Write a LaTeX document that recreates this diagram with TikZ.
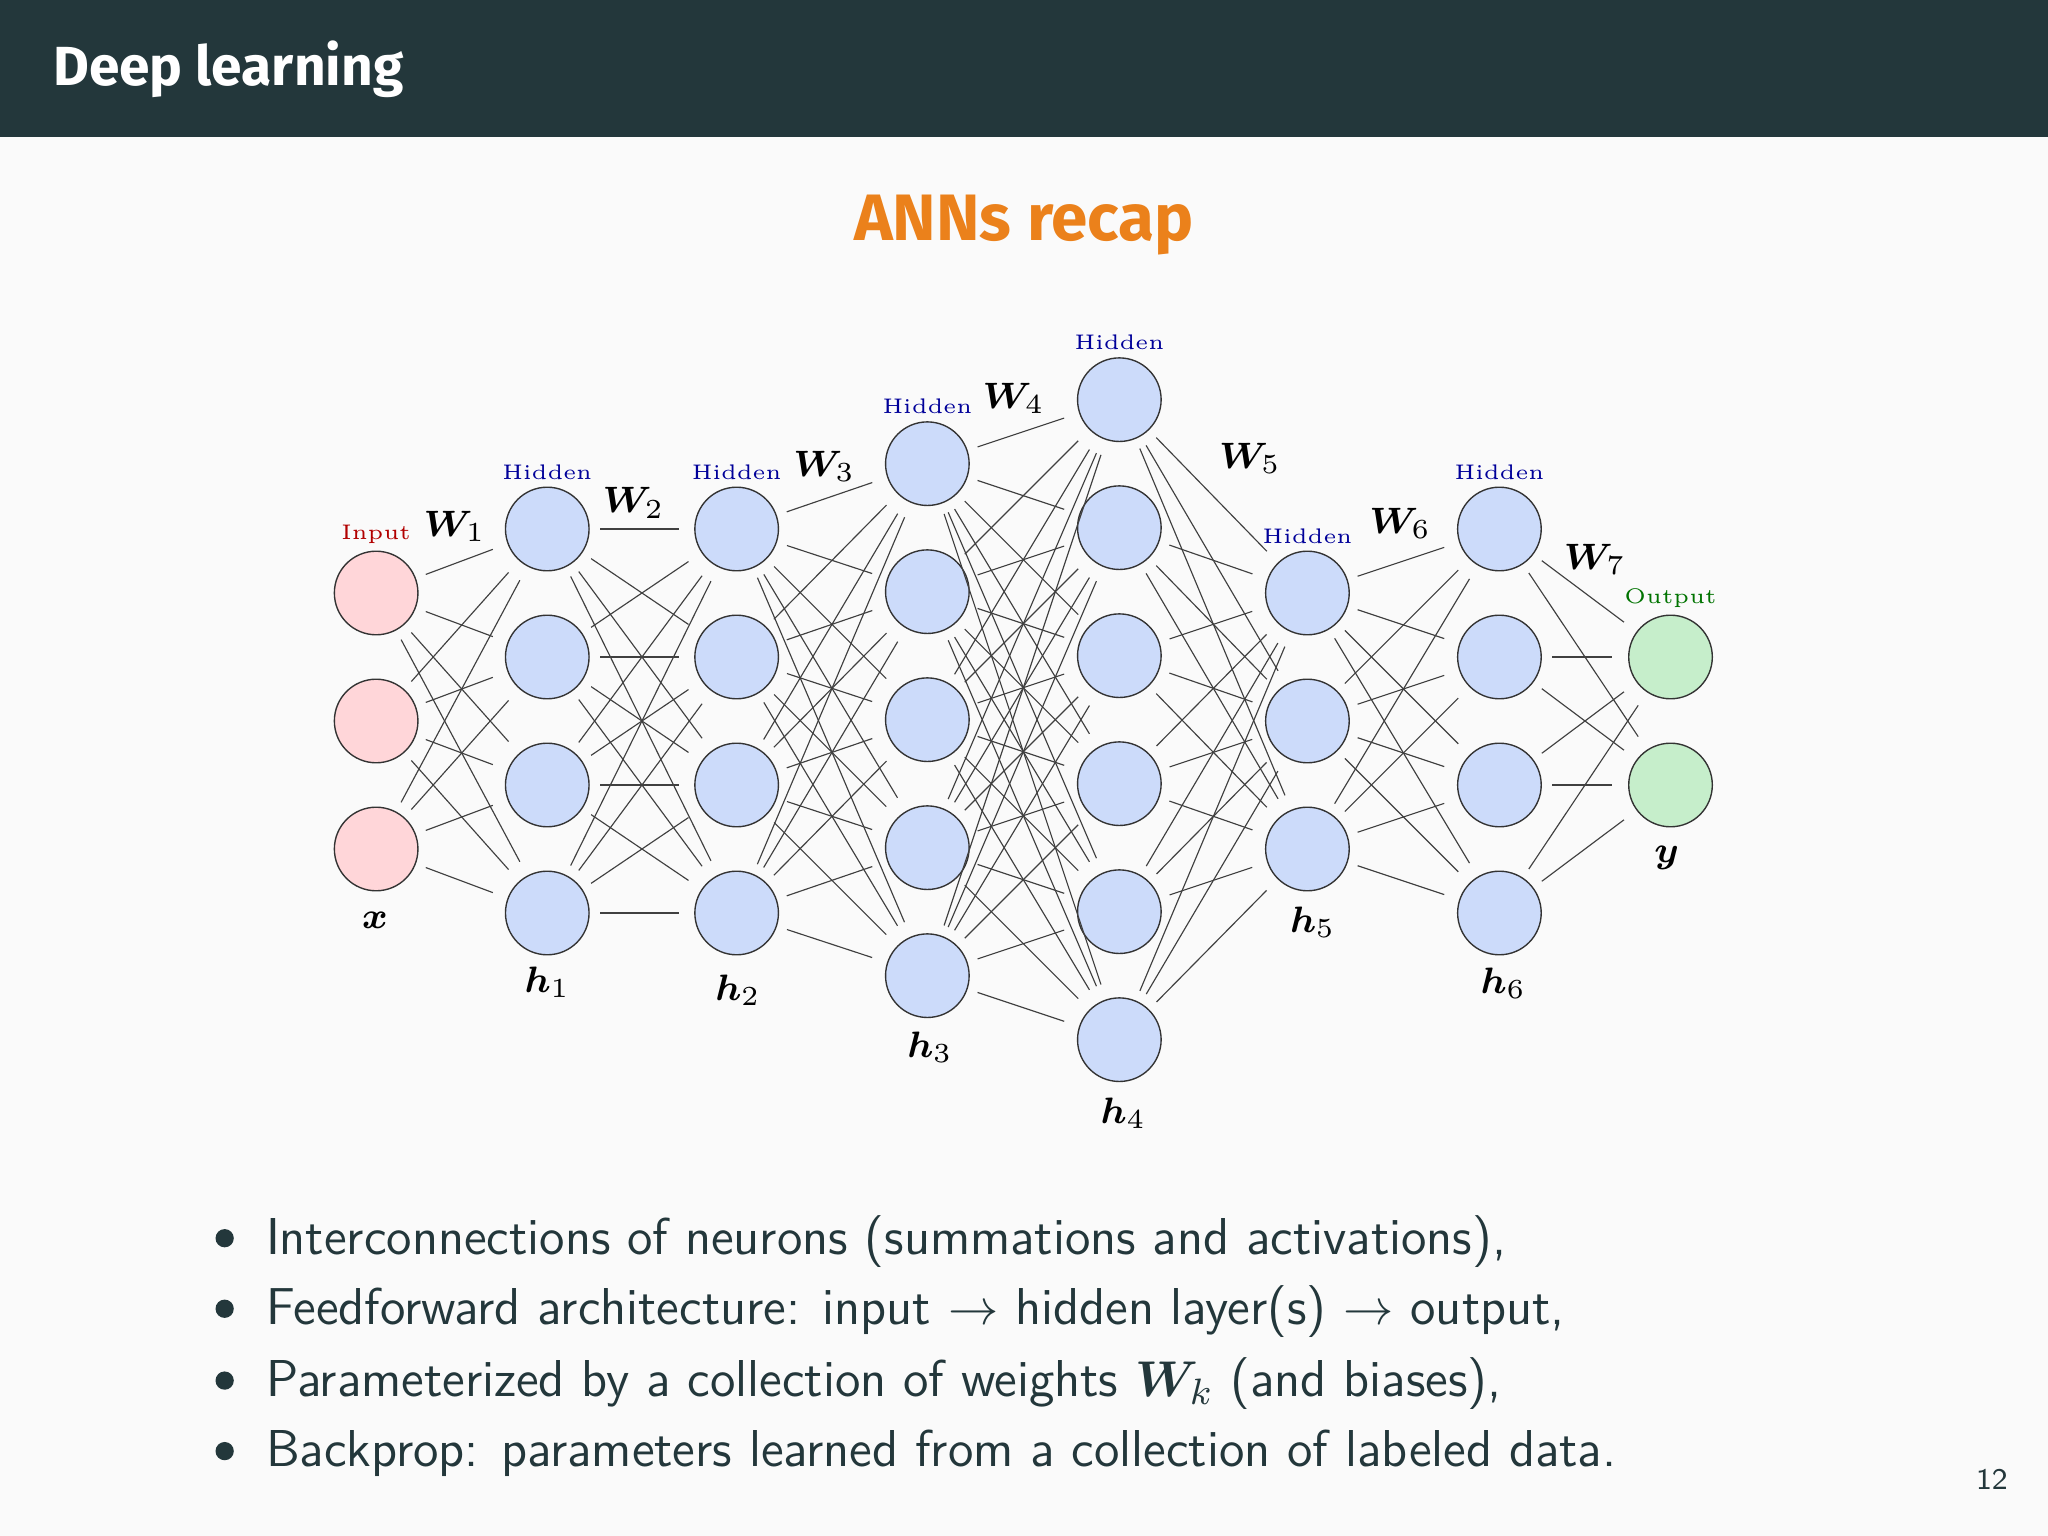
\documentclass[tikz,border=0pt]{standalone}
\usepackage{amsmath,amssymb,bm}
\usepackage{fontspec}
\newfontfamily\firafont{Fira Sans}
\begin{document}
\begin{tikzpicture}[x=0.1mm,y=-0.1mm,
  neuron/.style={circle,draw=black!80,line width=0.3pt,minimum size=6.4mm,inner sep=0},
  hid/.style={neuron,fill=hidfill},
  inp/.style={neuron,fill=inpfill},
  outp/.style={neuron,fill=outfill},
  conn/.style={line width=0.25pt,black!75,shorten >=1.2mm,shorten <=0.8mm},
  tag/.style={font=\rmfamily\fontsize{4.6}{5}\selectfont,inner sep=0.5pt},
  wlab/.style={font=\fontsize{8}{9}\selectfont},
  hlab/.style={font=\fontsize{8}{9}\selectfont}]
\definecolor{bar}{HTML}{23373B}
\definecolor{orng}{HTML}{EB811B}
\definecolor{hidfill}{HTML}{CCDBFA}
\definecolor{inpfill}{HTML}{FFD6D9}
\definecolor{outfill}{HTML}{C6EECB}
\useasboundingbox (0,0) rectangle (1568,1176);
\fill[black!2] (0,0) rectangle (1568,1176);
\fill[bar] (0,0) rectangle (1568,105);
\node[anchor=west,inner sep=0,text=white,font=\firafont\fontsize{12}{14}\selectfont\bfseries] (title) at (40,53) {Deep learning};
\node[text=orng,font=\firafont\fontsize{14.3}{16}\selectfont\bfseries] (sub) at (784,172) {ANNs recap};
% layers
\foreach \i/\y in {1/454,2/552,3/650} \node[inp] (a\i) at (288,\y) {};
\foreach \i/\y in {1/405,2/503,3/601,4/699} {\node[hid] (b\i) at (419,\y) {}; \node[hid] (c\i) at (564,\y) {}; \node[hid] (g\i) at (1148,\y) {};}
\foreach \i/\y in {1/355,2/453,3/551,4/649,5/747} \node[hid] (d\i) at (710,\y) {};
\foreach \i/\y in {1/306,2/404,3/502,4/600,5/698,6/796} \node[hid] (e\i) at (857,\y) {};
\foreach \i/\y in {1/454,2/552,3/650} \node[hid] (f\i) at (1001,\y) {};
\foreach \i/\y in {1/503,2/601} \node[outp] (o\i) at (1279,\y) {};
% connections
\foreach \i in {1,...,3} \foreach \j in {1,...,4} \draw[conn] (a\i) -- (b\j);
\foreach \i in {1,...,4} \foreach \j in {1,...,4} \draw[conn] (b\i) -- (c\j);
\foreach \i in {1,...,4} \foreach \j in {1,...,5} \draw[conn] (c\i) -- (d\j);
\foreach \i in {1,...,5} \foreach \j in {1,...,6} \draw[conn] (d\i) -- (e\j);
\foreach \i in {1,...,6} \foreach \j in {1,...,3} \draw[conn] (e\i) -- (f\j);
\foreach \i in {1,...,3} \foreach \j in {1,...,4} \draw[conn] (f\i) -- (g\j);
\foreach \i in {1,...,4} \foreach \j in {1,...,2} \draw[conn] (g\i) -- (o\j);
% tags
\node[tag,text=red!70!black,anchor=south] (ti) at ([yshift=0.3mm]a1.north) {Input};
\foreach \n in {b1,c1,d1,e1,f1,g1} \node[tag,text=blue!60!black,anchor=south] (t\n) at ([yshift=0.3mm]\n.north) {Hidden};
\node[tag,text=green!45!black,anchor=south] (to) at ([yshift=0.3mm]o1.north) {Output};
% W labels
\node[wlab] (w1) at (348,403) {$\bm{W}_{1}$};
\node[wlab] (w2) at (485,385) {$\bm{W}_{2}$};
\node[wlab] (w3) at (631,357) {$\bm{W}_{3}$};
\node[wlab] (w4) at (776,305) {$\bm{W}_{4}$};
\node[wlab] (w5) at (957,351) {$\bm{W}_{5}$};
\node[wlab] (w6) at (1072,401) {$\bm{W}_{6}$};
\node[wlab] (w7) at (1221,428) {$\bm{W}_{7}$};
% layer labels
\node[hlab] (lx) at (287,705) {$\bm{x}$};
\node[hlab] (l1) at (419,752) {$\bm{h}_1$};
\node[hlab] (l2) at (565,758) {$\bm{h}_2$};
\node[hlab] (l3) at (712,802) {$\bm{h}_3$};
\node[hlab] (l4) at (860,852) {$\bm{h}_4$};
\node[hlab] (l5) at (1005,706) {$\bm{h}_5$};
\node[hlab] (l6) at (1151,753) {$\bm{h}_6$};
\node[hlab] (ly) at (1276,657) {$\bm{y}$};
% bullets
\foreach \k/\y/\t in {1/951/{Interconnections of neurons (summations and activations),},
 2/1005/{Feedforward architecture: input $\rightarrow$ hidden layer(s) $\rightarrow$ output,},
 3/1060/{Parameterized by a collection of weights $\bm{W}_{k}$ (and biases),},
 4/1114/{Backprop: parameters learned from a collection of labeled data.}} {
 \fill[bar] (172,\y-3) circle (7);
 \node[anchor=west,inner sep=0,text=bar,font=\sffamily\fontsize{11.3}{13}\selectfont] (bl\k) at (203,\y) {\strut\t};
}
\node[text=bar,font=\sffamily\fontsize{6.5}{8}\selectfont] (pg) at (1525,1133) {12};
\end{tikzpicture}
\end{document}
